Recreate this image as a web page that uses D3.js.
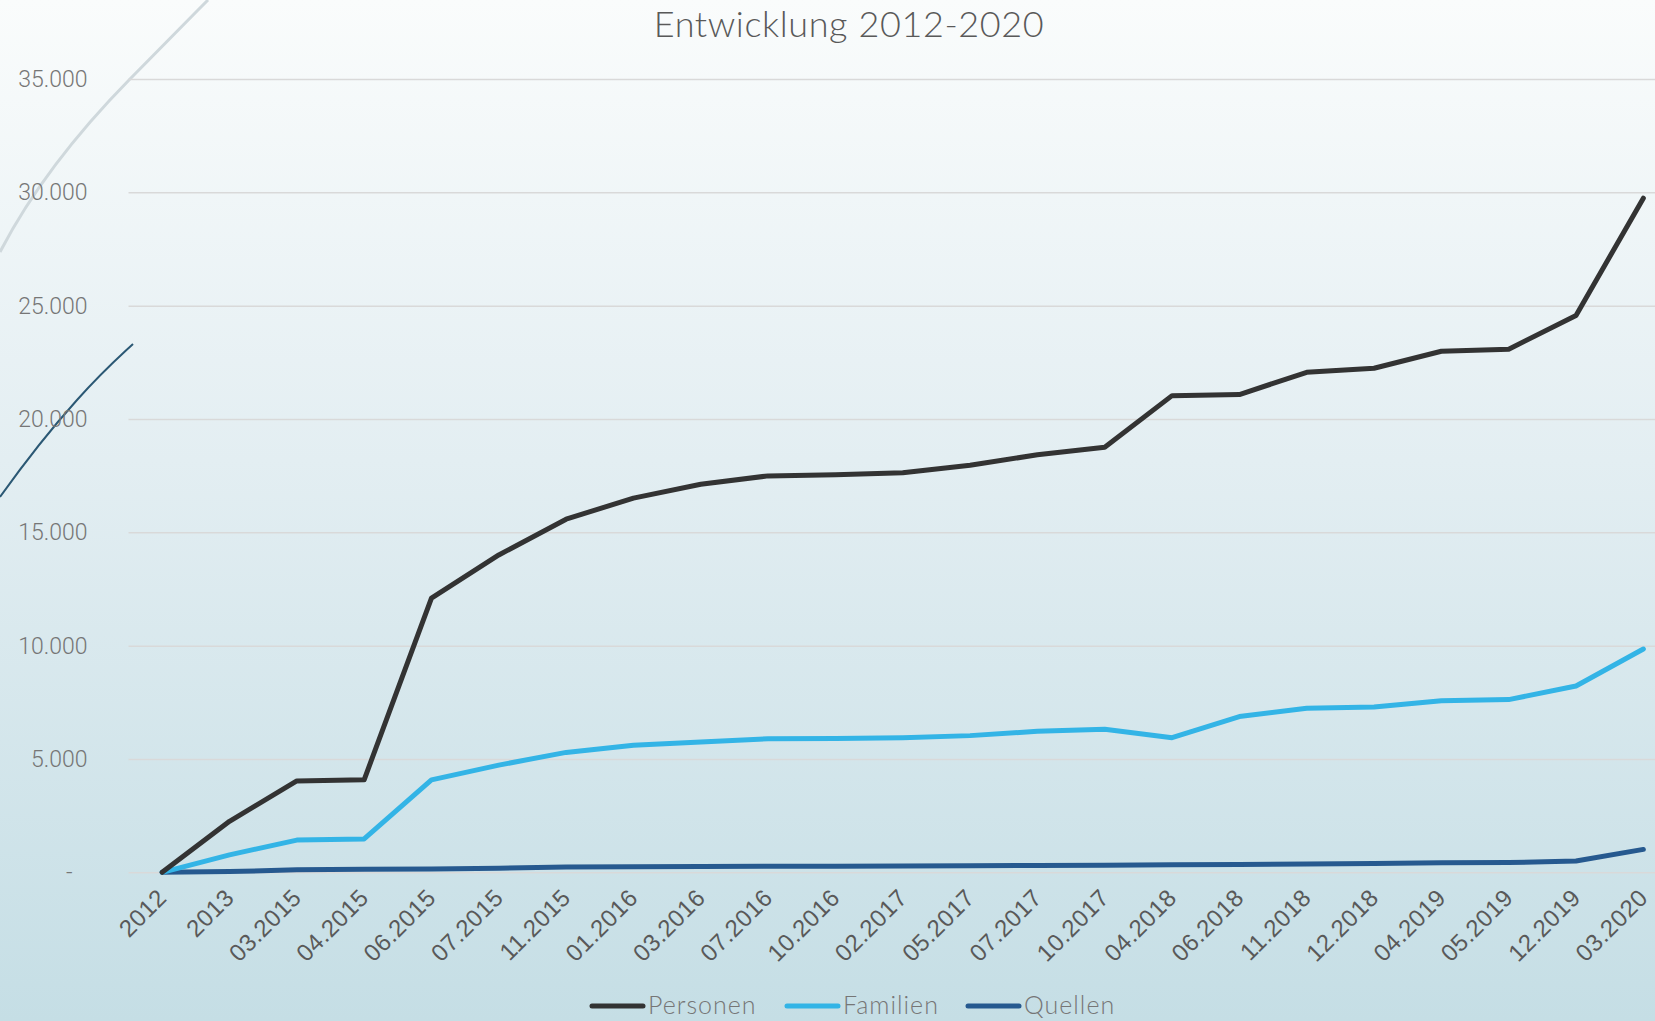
<!DOCTYPE html>
<html>
<head>
<meta charset="utf-8">
<script src="https://cdn.jsdelivr.net/npm/d3@7"></script>
<style>
  html, body { margin: 0; padding: 0; overflow: hidden; }
  #chart { width: 1655px; height: 1021px; }
</style>
</head>
<body>
<div id="chart"></div>
<script>
// Kategorien (Stichtage)
const stichtage = ["2012", "2013", "03.2015", "04.2015", "06.2015", "07.2015", "11.2015",
  "01.2016", "03.2016", "07.2016", "10.2016", "02.2017", "05.2017", "07.2017", "10.2017",
  "04.2018", "06.2018", "11.2018", "12.2018", "04.2019", "05.2019", "12.2019", "03.2020"];

// Werte je Reihe
const personen = [0, 2250, 4030, 4080, 12100, 14000, 15580, 16510, 17120, 17490, 17540, 17630,
  17960, 18420, 18750, 21030, 21080, 22060, 22240, 22990, 23080, 24570, 29740];
const familien = [0, 770, 1420, 1470, 4080, 4730, 5290, 5610, 5750, 5890, 5900, 5940,
  6030, 6220, 6310, 5940, 6870, 7240, 7290, 7570, 7620, 8220, 9850];
const quellen = [0, 30, 110, 140, 150, 180, 230, 250, 260, 270, 270, 280,
  290, 300, 310, 330, 340, 370, 390, 420, 430, 500, 1010];

const yTicks = [0, 5000, 10000, 15000, 20000, 25000, 30000, 35000];

const reihen = [
  { name: "Personen", werte: personen, farbe: "#333333" },
  { name: "Familien", werte: familien, farbe: "#33b4e6" },
  { name: "Quellen",  werte: quellen,  farbe: "#26598f" }
];

const width = 1655, height = 1021;
const plotLeft = 128.5, plotRight = 1677;   // Diagramm läuft rechts über den Rand hinaus
const yTop = 79, yBottom = 872.3;

const de = d3.formatLocale({ decimal: ",", thousands: ".", grouping: [3], currency: ["", " €"] });
const fmt = de.format(",");

const svg = d3.select("#chart").append("svg")
  .attr("width", width)
  .attr("height", height)
  .style("font-family", "Lato, 'Open Sans', sans-serif");

// Hintergrundverlauf
const defs = svg.append("defs");
const grad = defs.append("linearGradient")
  .attr("id", "bg").attr("x1", 0).attr("y1", 0).attr("x2", 0).attr("y2", 1);
grad.append("stop").attr("offset", "0%").attr("stop-color", "#fafcfc");
grad.append("stop").attr("offset", "45%").attr("stop-color", "#e3eef2");
grad.append("stop").attr("offset", "100%").attr("stop-color", "#c5dee5");
svg.append("rect").attr("width", width).attr("height", height).attr("fill", "url(#bg)");

// dekorative Bögen links
svg.append("path")
  .attr("d", "M0,252 C28,198 70,140 130,79 S190,18 208,0")
  .attr("fill", "none").attr("stroke", "#cfd8dc").attr("stroke-width", 3);
svg.append("path")
  .attr("d", "M0,497 C25,462 50,430 77,400 S118,358 133,344")
  .attr("fill", "none").attr("stroke", "#2b5874").attr("stroke-width", 2);

// Skalen
const x = d3.scaleBand().domain(stichtage).range([plotLeft, plotRight]).padding(0);
const cx = d => x(d) + x.bandwidth() / 2;
const y = d3.scaleLinear().domain([0, 35000]).range([yBottom, yTop]);

// Gitterlinien + Y-Achse
const yAxis = svg.append("g")
  .attr("transform", `translate(${plotLeft},0)`)
  .call(d3.axisLeft(y).tickValues(yTicks)
    .tickSize(-(plotRight - plotLeft))
    .tickPadding(41)
    .tickFormat(d => d === 0 ? "-" : fmt(d)));
yAxis.select(".domain").remove();
yAxis.selectAll(".tick line").attr("stroke", "#d9d9d9").attr("stroke-width", 1.5);
yAxis.selectAll(".tick text")
  .attr("fill", "#767676")
  .style("font-family", "Roboto, sans-serif")
  .style("font-weight", 300)
  .style("font-size", "23px")
  .attr("dx", d => d === 0 ? -15 : 0);

// X-Achse
const xAxis = svg.append("g")
  .attr("transform", `translate(0,${yBottom})`)
  .call(d3.axisBottom(x).tickSize(0).tickPadding(0));
xAxis.select(".domain").remove();
xAxis.selectAll(".tick text")
  .attr("fill", "#595959")
  .style("font-size", "24px")
  .style("font-weight", 300)
  .style("letter-spacing", "0.5px")
  .attr("text-anchor", "end")
  .attr("y", 0).attr("dy", "0.35em")
  .attr("transform", "translate(0,21) rotate(-45)");

// Linien
const line = d3.line()
  .x((d, i) => cx(stichtage[i]))
  .y(d => y(d));

svg.append("g").selectAll("path")
  .data(reihen.slice().reverse())
  .enter().append("path")
  .attr("fill", "none")
  .attr("stroke", d => d.farbe)
  .attr("stroke-width", 5)
  .attr("stroke-linejoin", "round")
  .attr("stroke-linecap", "round")
  .attr("d", d => line(d.werte));

// Titel
svg.append("text")
  .attr("x", 849).attr("y", 37)
  .attr("text-anchor", "middle")
  .attr("fill", "#595959")
  .style("font-size", "36px")
  .style("font-weight", 300)
  .style("letter-spacing", "0.6px")
  .text("Entwicklung 2012-2020");

// Legende
const legendX = [592, 787, 968];
const legend = svg.append("g").selectAll("g")
  .data(reihen)
  .enter().append("g")
  .attr("transform", (d, i) => `translate(${legendX[i]},1006)`);
legend.append("line")
  .attr("x1", 0).attr("x2", 51)
  .attr("stroke", d => d.farbe)
  .attr("stroke-width", 5)
  .attr("stroke-linecap", "round");
legend.append("text")
  .attr("x", 56).attr("dy", "0.32em")
  .attr("fill", "#767676")
  .style("font-size", "25px")
  .style("font-weight", 300)
  .style("letter-spacing", "1px")
  .text(d => d.name);
</script>
</body>
</html>
